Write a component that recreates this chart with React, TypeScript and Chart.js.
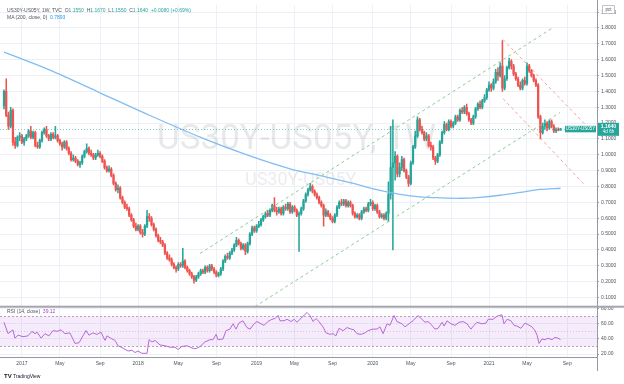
import React, { useEffect, useRef } from "react";
import { Chart, registerables } from "chart.js";
Chart.register(...registerables);

// ---------- data (weekly candles, index 0 = week of 7 Nov 2016) ----------
const firstOpen = 1.31;
const closes = [
  1.40, 1.25, 1.18, 1.28, 1.08, 1.06, 1.11, 1.12, 1.08, 1.10,
  1.12, 1.15, 1.11, 1.14, 1.06, 1.05, 1.09, 1.14, 1.16, 1.12,
  1.10, 1.13, 1.11, 1.12, 1.09, 1.07, 1.05, 1.08, 1.04, 1.01,
  0.97, 0.98, 0.96, 0.94, 0.95, 0.99, 1.02, 1.04, 1.01, 1.00,
  0.98, 1.00, 1.01, 0.99, 0.96, 0.92, 0.90, 0.91, 0.87, 0.82,
  0.78, 0.79, 0.73, 0.70, 0.67, 0.66, 0.62, 0.59, 0.55, 0.53,
  0.55, 0.51, 0.50, 0.55, 0.61, 0.60, 0.56, 0.53, 0.49, 0.46,
  0.45, 0.43, 0.38, 0.35, 0.34, 0.31, 0.29, 0.28, 0.31, 0.30,
  0.33, 0.29, 0.27, 0.25, 0.23, 0.21, 0.23, 0.25, 0.27, 0.26,
  0.29, 0.27, 0.30, 0.28, 0.26, 0.24, 0.25, 0.28, 0.33, 0.36,
  0.35, 0.38, 0.40, 0.43, 0.46, 0.44, 0.41, 0.43, 0.39, 0.44,
  0.50, 0.54, 0.52, 0.55, 0.56, 0.59, 0.61, 0.63, 0.62, 0.65,
  0.68, 0.65, 0.64, 0.66, 0.63, 0.67, 0.66, 0.69, 0.64, 0.67,
  0.65, 0.62, 0.63, 0.66, 0.71, 0.75, 0.78, 0.80, 0.77, 0.75,
  0.73, 0.70, 0.68, 0.62, 0.64, 0.62, 0.60, 0.58, 0.62, 0.67,
  0.70, 0.69, 0.71, 0.68, 0.70, 0.68, 0.63, 0.61, 0.62, 0.60,
  0.64, 0.66, 0.65, 0.69, 0.70, 0.66, 0.68, 0.64, 0.61, 0.62,
  0.60, 0.63, 0.75, 0.92, 0.95, 0.99, 0.88, 0.92, 0.97, 0.90,
  0.86, 0.82, 0.95, 1.05, 1.12, 1.22, 1.16, 1.14, 1.10, 1.12,
  1.06, 1.05, 0.98, 0.96, 1.00, 1.08, 1.14, 1.19, 1.16, 1.21,
  1.18, 1.20, 1.24, 1.22, 1.28, 1.27, 1.30, 1.26, 1.22, 1.20,
  1.24, 1.29, 1.32, 1.30, 1.34, 1.36, 1.41, 1.44, 1.42, 1.46,
  1.52, 1.50, 1.56, 1.42, 1.48, 1.55, 1.59, 1.56, 1.51, 1.48,
  1.44, 1.42, 1.47, 1.45, 1.56, 1.53, 1.50, 1.47, 1.44, 1.24,
  1.14, 1.18, 1.20, 1.17, 1.21, 1.18, 1.15, 1.16, 1.155, 1.164,
];
const highs = [
  1.41, 1.48, 1.27, 1.30, 1.29, 1.11, 1.12, 1.14, 1.13, 1.11,
  1.13, 1.16, 1.18, 1.15, 1.15, 1.08, 1.10, 1.15, 1.17, 1.18,
  1.13, 1.14, 1.14, 1.18, 1.13, 1.10, 1.08, 1.09, 1.09, 1.05,
  1.02, 1.00, 0.99, 0.97, 0.96, 1.00, 1.03, 1.07, 1.05, 1.03,
  1.01, 1.01, 1.03, 1.02, 1.00, 0.97, 0.93, 0.93, 0.92, 0.88,
  0.83, 0.81, 0.80, 0.74, 0.71, 0.69, 0.67, 0.63, 0.60, 0.57,
  0.56, 0.56, 0.53, 0.56, 0.65, 0.63, 0.61, 0.57, 0.54, 0.50,
  0.48, 0.46, 0.44, 0.39, 0.37, 0.35, 0.32, 0.30, 0.32, 0.32,
  0.41, 0.34, 0.30, 0.28, 0.26, 0.24, 0.24, 0.26, 0.28, 0.28,
  0.30, 0.30, 0.31, 0.31, 0.29, 0.27, 0.26, 0.29, 0.34, 0.37,
  0.38, 0.39, 0.41, 0.44, 0.48, 0.47, 0.45, 0.44, 0.44, 0.45,
  0.51, 0.55, 0.55, 0.56, 0.58, 0.60, 0.62, 0.64, 0.65, 0.66,
  0.69, 0.73, 0.67, 0.67, 0.67, 0.68, 0.69, 0.70, 0.70, 0.68,
  0.68, 0.66, 0.64, 0.67, 0.72, 0.76, 0.79, 0.82, 0.81, 0.78,
  0.76, 0.74, 0.71, 0.69, 0.66, 0.65, 0.63, 0.61, 0.63, 0.68,
  0.71, 0.72, 0.72, 0.72, 0.71, 0.71, 0.69, 0.64, 0.63, 0.63,
  0.65, 0.67, 0.67, 0.70, 0.72, 0.71, 0.69, 0.69, 0.65, 0.63,
  0.63, 0.64, 0.83, 1.18, 1.22, 1.02, 1.00, 0.95, 0.99, 0.98,
  0.91, 0.87, 0.96, 1.06, 1.15, 1.24, 1.23, 1.18, 1.15, 1.14,
  1.13, 1.08, 1.06, 0.99, 1.01, 1.09, 1.15, 1.21, 1.20, 1.22,
  1.22, 1.21, 1.25, 1.25, 1.29, 1.30, 1.31, 1.32, 1.27, 1.23,
  1.25, 1.30, 1.33, 1.34, 1.35, 1.38, 1.42, 1.46, 1.45, 1.48,
  1.54, 1.55, 1.58, 1.72, 1.50, 1.56, 1.61, 1.60, 1.57, 1.52,
  1.49, 1.46, 1.48, 1.49, 1.58, 1.57, 1.54, 1.51, 1.48, 1.45,
  1.25, 1.20, 1.22, 1.21, 1.22, 1.22, 1.19, 1.17, 1.17, 1.167,
];
const lows = [
  1.29, 1.24, 1.16, 1.17, 1.06, 1.04, 1.05, 1.09, 1.07, 1.06,
  1.09, 1.11, 1.10, 1.10, 1.05, 1.04, 1.04, 1.08, 1.13, 1.11,
  1.09, 1.09, 1.10, 1.10, 1.08, 1.06, 1.03, 1.04, 1.03, 1.00,
  0.96, 0.96, 0.95, 0.93, 0.92, 0.94, 0.98, 1.01, 1.00, 0.99,
  0.97, 0.97, 0.99, 0.98, 0.95, 0.91, 0.89, 0.89, 0.86, 0.81,
  0.77, 0.76, 0.72, 0.69, 0.66, 0.65, 0.61, 0.58, 0.54, 0.52,
  0.52, 0.50, 0.48, 0.49, 0.54, 0.58, 0.55, 0.52, 0.48, 0.45,
  0.44, 0.42, 0.37, 0.34, 0.33, 0.30, 0.28, 0.26, 0.27, 0.29,
  0.29, 0.28, 0.26, 0.24, 0.22, 0.19, 0.20, 0.22, 0.24, 0.25,
  0.25, 0.26, 0.26, 0.27, 0.25, 0.23, 0.23, 0.24, 0.27, 0.32,
  0.34, 0.34, 0.37, 0.39, 0.42, 0.43, 0.40, 0.40, 0.37, 0.38,
  0.43, 0.49, 0.51, 0.51, 0.54, 0.55, 0.58, 0.60, 0.61, 0.61,
  0.64, 0.64, 0.62, 0.63, 0.62, 0.62, 0.65, 0.65, 0.63, 0.63,
  0.64, 0.61, 0.39, 0.62, 0.65, 0.70, 0.74, 0.77, 0.76, 0.74,
  0.72, 0.69, 0.67, 0.55, 0.61, 0.61, 0.59, 0.57, 0.57, 0.61,
  0.66, 0.68, 0.68, 0.67, 0.67, 0.67, 0.62, 0.60, 0.60, 0.59,
  0.59, 0.63, 0.64, 0.64, 0.68, 0.65, 0.65, 0.63, 0.60, 0.60,
  0.59, 0.59, 0.58, 0.72, 0.40, 0.84, 0.86, 0.86, 0.90, 0.89,
  0.85, 0.80, 0.81, 0.94, 1.04, 1.11, 1.15, 1.13, 1.09, 1.09,
  1.05, 1.03, 0.97, 0.94, 0.95, 0.99, 1.07, 1.13, 1.15, 1.15,
  1.17, 1.17, 1.19, 1.21, 1.21, 1.26, 1.26, 1.25, 1.21, 1.19,
  1.19, 1.23, 1.28, 1.29, 1.29, 1.33, 1.35, 1.40, 1.40, 1.41,
  1.45, 1.47, 1.49, 1.40, 1.41, 1.47, 1.54, 1.54, 1.50, 1.47,
  1.43, 1.41, 1.41, 1.44, 1.44, 1.52, 1.49, 1.46, 1.43, 1.23,
  1.10, 1.13, 1.16, 1.15, 1.16, 1.17, 1.14, 1.14, 1.15, 1.155,
];

// MA(200) (week index, value)
const maWeeks = [0, 20.6, 43, 65.3, 87.7, 110, 128, 141.4, 154.8, 168.2, 177.2, 186.1, 195.1, 204, 213, 222, 230.9, 239.8, 249];
const maValues = [1.648, 1.534, 1.391, 1.248, 1.112, 0.993, 0.912, 0.869, 0.825, 0.776, 0.751, 0.735, 0.729, 0.726, 0.732, 0.745, 0.763, 0.782, 0.7893];

// RSI(14) (week index, value)
const rsiWeeks = [
  0, 1.8, 4.0, 4.9, 6.3, 8.5, 10.7, 12.5, 13.9, 14.8, 16.6, 18.3, 20.1, 21.9, 23.7, 25.5, 27.3, 29.5, 31.8, 33.6,
  35.3, 36.7, 38.0, 39.8, 41.6, 43.4, 45.2, 46.1, 48.3, 49.7, 51.0, 53.2, 55.5, 57.3, 58.6, 60.0, 61.7, 64.0, 64.9, 66.2,
  67.6, 69.8, 72.0, 74.3, 76.5, 77.9, 79.6, 81.9, 84.1, 85.9, 87.7, 89.9, 92.2, 93.5, 94.9, 95.7, 98.0, 99.3, 101.1, 102.5,
  103.8, 105.1, 106.9, 108.7, 110.1, 111.9, 113.2, 115.0, 116.3, 118.1, 119.9, 121.3, 122.6, 123.5, 125.3, 126.6, 128.4, 129.8, 131.1, 132.4,
  134.2, 135.6, 136.9, 138.3, 139.6, 140.9, 142.7, 144.1, 145.9, 147.2, 148.5, 149.9, 151.7, 153.5, 155.3, 156.6, 157.9, 159.7, 161.5, 162.9,
  165.1, 166.9, 168.2, 169.6, 171.4, 172.7, 174.5, 175.8, 178.1, 179.4, 181.2, 183.0, 185.2, 187.0, 188.4, 189.7, 191.5, 192.8, 194.2, 196.0,
  196.9, 198.2, 200.0, 201.8, 203.6, 205.4, 207.2, 208.9, 210.3, 211.6, 213.9, 215.7, 216.6, 218.8, 220.6, 222.8, 223.7, 225.1, 226.8, 228.2,
  229.5, 231.3, 233.1, 234.4, 236.2, 237.6, 238.5, 239.4, 240.7, 242.1, 243.4, 245.2, 246.5, 247.9, 249,
];
const rsiValues = [
  62, 47, 52, 41, 45, 43, 44, 50, 47, 49, 41, 47, 44, 51, 50, 52, 47, 48, 34, 35,
  44, 51, 45, 48, 46, 49, 38, 44, 40, 38, 31, 28, 24, 25, 22, 24, 21, 21, 39, 36,
  38, 32, 31, 29, 29, 26, 30, 31, 28, 27, 30, 36, 39, 39, 46, 39, 40, 51, 53, 60,
  53, 61, 64, 55, 53, 60, 63, 60, 58, 63, 66, 67, 71, 64, 64, 66, 63, 66, 62, 66,
  71, 75, 71, 63, 67, 63, 56, 48, 46, 47, 44, 54, 51, 55, 53, 52, 47, 46, 48, 51,
  53, 53, 56, 47, 60, 58, 71, 63, 60, 56, 60, 64, 71, 66, 62, 63, 58, 53, 54, 62,
  57, 64, 60, 58, 62, 63, 60, 53, 58, 62, 60, 61, 66, 66, 70, 72, 60, 66, 64, 58,
  57, 54, 61, 59, 56, 51, 45, 34, 40, 39, 41, 39, 42, 41, 39.12,
];

// trend-channel drawings (week index, price)
const greenUpperWeeks = [87.7, 245.6];
const greenUpperValues = [0.378, 1.802];
const greenLowerWeeks = [112.3, 248.8];
const greenLowerValues = [0.043, 1.267];
const redUpperWeeks = [223.3, 260];
const redUpperValues = [1.727, 1.192];
const redLowerWeeks = [223.3, 260];
const redLowerValues = [1.354, 0.807];

// axes
const timeTickWeeks = [8, 25, 43, 60, 78, 95, 113, 130, 147, 165, 182, 200, 217, 234, 252];
const timeTickLabels = ["2017", "May", "Sep", "2018", "May", "Sep", "2019", "May", "Sep", "2020", "May", "Sep", "2021", "May", "Sep"];
const priceTicks = [0.1, 0.2, 0.3, 0.4, 0.5, 0.6, 0.7, 0.8, 0.9, 1.0, 1.1, 1.2, 1.3, 1.4, 1.5, 1.6, 1.7, 1.8, 1.9];
const rsiTicks = [20, 40, 60, 80];

const symbol = "US30Y-US05Y";
const watermarkMain = "US30Y-US05Y, 1W";
const lastClose = 1.164;

const UP = "#26a69a";
const DOWN = "#ef5350";
const FONT = '"Liberation Sans", Arial, sans-serif';

const opens = closes.map((c, i) => (i === 0 ? firstOpen : closes[i - 1]));
const candleColors = closes.map((c, i) => (c >= opens[i] ? UP : DOWN));

const pts = (w: number[], v: number[]) => w.map((x, i) => ({ x, y: v[i] }));

const decor = {
  id: "decor",
  beforeDatasetsDraw(chart: any) {
    const { ctx, chartArea: a, scales } = chart;
    const r = scales.rsi;
    ctx.save();
    ctx.textAlign = "left";
    ctx.textBaseline = "alphabetic";
    ctx.fillStyle = "rgba(120,123,134,0.17)";
    ctx.font = "35px Roboto";
    ctx.fillText(watermarkMain, 157, 149);
    ctx.fillStyle = "rgba(120,123,134,0.14)";
    ctx.font = "18px Roboto";
    ctx.fillText(symbol, 245, 185);

    const y70 = r.getPixelForValue(70);
    const y30 = r.getPixelForValue(30);
    const y50 = r.getPixelForValue(50);
    ctx.fillStyle = "rgba(170,90,220,0.12)";
    ctx.fillRect(a.left, y70, a.right - a.left, y30 - y70);
    ctx.lineWidth = 1;
    ctx.strokeStyle = "rgba(150,130,170,0.7)";
    ctx.setLineDash([2, 2]);
    ctx.beginPath();
    ctx.moveTo(a.left, Math.round(y70) + 0.5);
    ctx.lineTo(a.right, Math.round(y70) + 0.5);
    ctx.moveTo(a.left, Math.round(y30) + 0.5);
    ctx.lineTo(a.right, Math.round(y30) + 0.5);
    ctx.stroke();
    ctx.strokeStyle = "rgba(150,130,170,0.35)";
    ctx.setLineDash([1, 2]);
    ctx.beginPath();
    ctx.moveTo(a.left, Math.round(y50) + 0.5);
    ctx.lineTo(a.right, Math.round(y50) + 0.5);
    ctx.stroke();
    ctx.restore();
  },
  afterDraw(chart: any) {
    const { ctx, chartArea: a, scales } = chart;
    const y = scales.y;
    const py = y.getPixelForValue(lastClose);
    ctx.save();
    ctx.strokeStyle = "rgba(38,166,154,0.55)";
    ctx.lineWidth = 1;
    ctx.setLineDash([1, 2]);
    ctx.beginPath();
    ctx.moveTo(a.left, Math.round(py) + 0.5);
    ctx.lineTo(a.right, Math.round(py) + 0.5);
    ctx.stroke();
    ctx.setLineDash([]);
    ctx.fillStyle = "#a3a6af";
    ctx.fillRect(0, y.bottom - 1, 624, 2);
    ctx.fillStyle = "#9598a1";
    ctx.fillRect(a.right, 0, 1, 371);
    ctx.fillRect(0, a.bottom, a.right, 1);
    ctx.fillStyle = UP;
    ctx.fillRect(565, py - 3, 31, 6.5);
    ctx.fillRect(a.right + 1, py - 6, 21, 13);
    ctx.fillStyle = "#ffffff";
    ctx.textBaseline = "middle";
    ctx.textAlign = "center";
    ctx.font = `4.5px ${FONT}`;
    ctx.fillText(symbol, 580.5, py + 0.3);
    ctx.font = `bold 5px ${FONT}`;
    ctx.fillText(lastClose.toFixed(4), a.right + 11.5, py - 2.3);
    ctx.font = `4.5px ${FONT}`;
    ctx.fillText("4d 6h", a.right + 11.5, py + 3.2);
    ctx.fillStyle = "#ffffff";
    ctx.strokeStyle = "#b2b5be";
    ctx.lineWidth = 0.8;
    ctx.beginPath();
    ctx.rect(602.5, 5.5, 12, 8);
    ctx.fill();
    ctx.stroke();
    ctx.fillStyle = "#50535e";
    ctx.font = `4.5px ${FONT}`;
    ctx.fillText("pct", 608.5, 9.7);
    ctx.restore();
  },
};

const tickFont = { family: FONT, size: 5 };
const TICK_COLOR = "#50535e";
const GRID = "#edf1f7";

function lineSet(data: any[], color: string, dash: number[] | undefined, width: number, axis = "y") {
  return {
    type: "line",
    data,
    yAxisID: axis,
    borderColor: color,
    borderWidth: width,
    borderDash: dash ?? [],
    pointRadius: 0,
    tension: 0,
    order: 0,
  } as any;
}

function buildChart(canvas: HTMLCanvasElement) {
  return new Chart(canvas, {
    type: "bar",
    data: {
      datasets: [
        { ...lineSet(pts(maWeeks, maValues), "#82bdf2", undefined, 1.3), tension: 0.3 },
        lineSet(pts(greenUpperWeeks, greenUpperValues), "rgba(129,199,132,0.9)", [3, 3], 1),
        lineSet(pts(greenLowerWeeks, greenLowerValues), "rgba(129,199,132,0.9)", [3, 3], 1),
        lineSet(pts(redUpperWeeks, redUpperValues), "rgba(239,83,80,0.55)", [3, 3], 1),
        lineSet(pts(redLowerWeeks, redLowerValues), "rgba(239,83,80,0.55)", [3, 3], 1),
        lineSet(pts(rsiWeeks, rsiValues), "#b868d6", undefined, 1, "rsi"),
        {
          type: "bar",
          label: "body",
          data: closes.map((c, i) => ({ x: i, y: [Math.min(opens[i], c), Math.max(opens[i], c)] })),
          yAxisID: "y",
          backgroundColor: candleColors,
          borderWidth: 0,
          barThickness: 1.6,
          minBarLength: 1,
          grouped: false,
          order: 1,
        } as any,
        {
          type: "bar",
          label: "wick",
          data: closes.map((c, i) => ({ x: i, y: [lows[i], highs[i]] })),
          yAxisID: "y",
          backgroundColor: candleColors,
          borderWidth: 0,
          barThickness: 0.9,
          grouped: false,
          order: 2,
        } as any,
      ],
    },
    options: {
      animation: false,
      responsive: false,
      maintainAspectRatio: false,
      events: [],
      layout: { padding: 0 },
      plugins: { legend: { display: false }, tooltip: { enabled: false } },
      scales: {
        x: {
          type: "linear",
          min: -1.79,
          max: 265.32,
          offset: false,
          afterBuildTicks: (s: any) => {
            s.ticks = timeTickWeeks.map((v) => ({ value: v }));
          },
          afterFit: (s: any) => {
            s.height = 27;
          },
          ticks: {
            autoSkip: false,
            maxRotation: 0,
            padding: 4,
            font: tickFont,
            color: TICK_COLOR,
            callback: (_v: any, i: number) => timeTickLabels[i] ?? "",
          },
          grid: { color: GRID, drawTicks: false, offset: false },
          border: { display: false },
        },
        y: {
          type: "linear",
          position: "right",
          stack: "pane",
          stackWeight: 6,
          min: 0.042,
          max: 1.945,
          afterBuildTicks: (s: any) => {
            s.ticks = priceTicks.map((v) => ({ value: v }));
          },
          afterFit: (s: any) => {
            s.width = 27;
          },
          ticks: {
            autoSkip: false,
            padding: 2,
            font: tickFont,
            color: TICK_COLOR,
            callback: (v: any) => Number(v).toFixed(4),
          },
          grid: { color: GRID, tickColor: "#9598a1", tickLength: 2 },
          border: { display: false },
        },
        rsi: {
          type: "linear",
          position: "right",
          stack: "pane",
          stackWeight: 1,
          min: 16.1,
          max: 82.6,
          afterBuildTicks: (s: any) => {
            s.ticks = rsiTicks.map((v) => ({ value: v }));
          },
          afterFit: (s: any) => {
            s.width = 27;
          },
          ticks: {
            autoSkip: false,
            padding: 2,
            font: tickFont,
            color: TICK_COLOR,
            callback: (v: any) => Number(v).toFixed(2),
          },
          grid: { color: GRID, tickColor: "#9598a1", tickLength: 2 },
          border: { display: false },
        },
      },
    } as any,
    plugins: [decor],
  });
}

const small = (left: number, top: number): React.CSSProperties => ({
  position: "absolute",
  left,
  top,
  fontSize: 10,
  lineHeight: "12px",
  fontFamily: FONT,
  transform: "scale(0.5)",
  transformOrigin: "0 0",
  whiteSpace: "pre",
  color: "#50535e",
});

export default function App() {
  const ref = useRef<HTMLCanvasElement>(null);
  useEffect(() => {
    document.body.style.margin = "0";
    const chart = buildChart(ref.current as HTMLCanvasElement);
    return () => chart.destroy();
  }, []);
  const g = { color: UP };
  return (
    <div style={{ position: "relative", width: 624, height: 384, background: "#ffffff", overflow: "hidden" }}>
      <canvas ref={ref} width={624} height={384} style={{ display: "block", width: 624, height: 384 }} />
      <div style={small(7, 7)}>
        {"US30Y-US05Y, 1W, TVC  O"}<span style={g}>1.1550</span>{"  H"}<span style={g}>1.1670</span>
        {"  L"}<span style={g}>1.1550</span>{"  C"}<span style={g}>1.1640</span>
        <span style={g}>{"  +0.0080 (+0.69%)"}</span>
      </div>
      <div style={small(7, 14)}>
        {"MA (200, close, 0)  "}<span style={{ color: "#2196f3" }}>0.7893</span>
      </div>
      <div style={small(7, 308)}>
        {"RSI (14, close)  "}<span style={{ color: "#ab47bc" }}>39.12</span>
      </div>
      <div style={{ ...small(4, 373), color: "#131722" }}>
        <b style={{ fontSize: 12 }}>TV</b>{" TradingView"}
      </div>
    </div>
  );
}
